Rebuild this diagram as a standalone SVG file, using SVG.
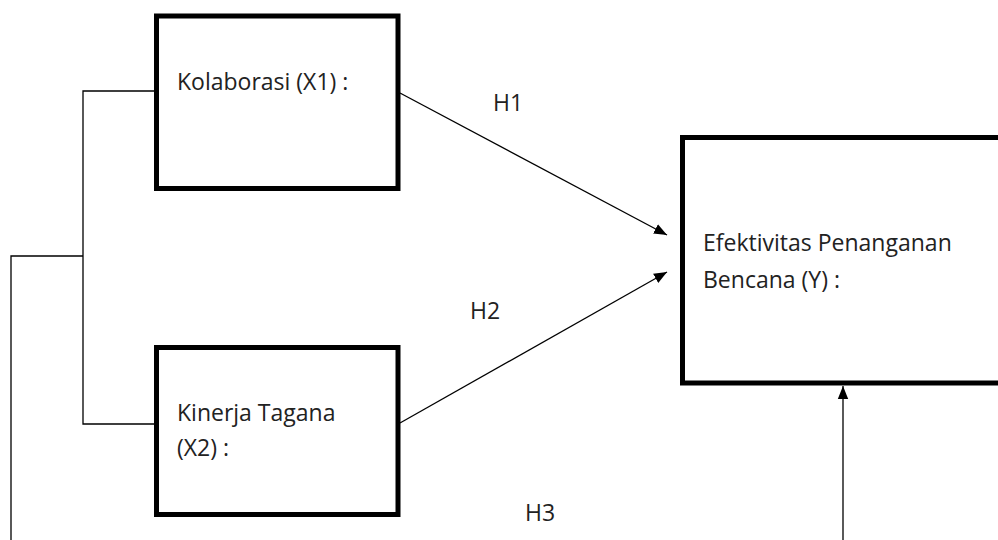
<svg xmlns="http://www.w3.org/2000/svg" width="998" height="540" viewBox="0 0 998 540">
<defs>
<style>
.box{fill:#fff;stroke:#000;stroke-width:5}
.t{font-family:"Open Sans","Noto Sans",sans-serif;font-size:23px;fill:#222}
.ln{fill:none;stroke:#000;stroke-width:1.3}
</style>
<marker id="ah2" viewBox="0 0 10 10" refX="10" refY="5" markerWidth="13" markerHeight="13" markerUnits="userSpaceOnUse" orient="auto">
<path d="M0,1 L10,5 L0,9 z" fill="#000"/>
</marker>
</defs>
<rect width="998" height="540" fill="#fff"/>
<g id="connectors">
<polyline class="ln" points="156,91 83,91 83,424 156,424"/>
<polyline class="ln" points="83,256 11,256 11,540"/>
<line class="ln" x1="400" y1="93" x2="667" y2="235" marker-end="url(#ah2)"/>
<line class="ln" x1="400" y1="423" x2="667" y2="272" marker-end="url(#ah2)"/>
<line class="ln" x1="843" y1="540" x2="843" y2="386" marker-end="url(#ah2)"/>
<text class="t" x="493" y="111">H1</text>
<text class="t" x="470" y="319">H2</text>
<text class="t" x="525" y="521">H3</text>
</g>
<g id="x1">
<rect class="box" x="156.5" y="16" width="241.5" height="172.5"/>
<text class="t" x="177" y="90">Kolaborasi (X1) :</text>
</g>
<g id="x2">
<rect class="box" x="156.5" y="347.5" width="241.5" height="167"/>
<text class="t" x="177" y="421">Kinerja Tagana</text>
<text class="t" x="177" y="456">(X2) :</text>
</g>
<g id="y">
<rect class="box" x="682.5" y="137.5" width="330" height="245.5"/>
<text class="t" x="703" y="251">Efektivitas Penanganan</text>
<text class="t" x="703" y="288">Bencana (Y) :</text>
</g>
</svg>
